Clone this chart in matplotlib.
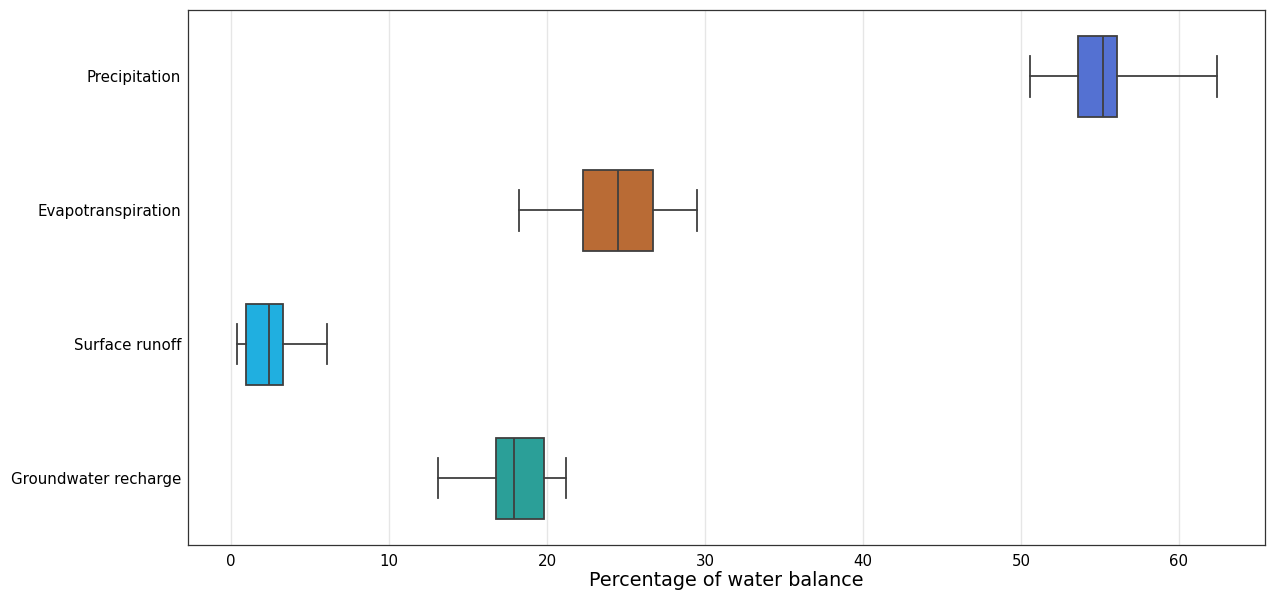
import matplotlib
matplotlib.use("Agg")
import matplotlib.pyplot as plt

categories = ["Precipitation", "Evapotranspiration", "Surface runoff", "Groundwater recharge"]
whislo = [50.6, 18.2, 0.4, 13.1]
q1 = [53.6, 22.3, 0.95, 16.8]
med = [55.2, 24.5, 2.4, 17.9]
q3 = [56.1, 26.7, 3.3, 19.8]
whishi = [62.4, 29.5, 6.1, 21.2]
colors = ["#5471d2", "#b96b35", "#20afe0", "#2b9f98"]

stats = []
for i, name in enumerate(categories):
    stats.append({"label": name, "whislo": whislo[i], "q1": q1[i], "med": med[i],
                  "q3": q3[i], "whishi": whishi[i], "fliers": []})

fig, ax = plt.subplots(figsize=(12.7, 5.94), dpi=100)
fig.subplots_adjust(left=0.148, right=0.996, top=0.984, bottom=0.082)

edge = "#3f3f3f"
bp = ax.bxp(stats, positions=range(len(categories)), vert=False, widths=0.6,
            patch_artist=True, showfliers=False,
            boxprops=dict(edgecolor=edge, linewidth=1.3),
            medianprops=dict(color=edge, linewidth=1.3),
            whiskerprops=dict(color=edge, linewidth=1.3),
            capprops=dict(color=edge, linewidth=1.3),
            capwidths=0.3)
for patch, c in zip(bp["boxes"], colors):
    patch.set_facecolor(c)
    patch.set_zorder(2)

ax.set_ylim(3.5, -0.5)
ax.set_xlim(-2.72, 65.44)
ax.set_yticks(range(len(categories)))
ax.set_yticklabels(categories)
ax.tick_params(axis="both", labelsize=10.8, length=0)
ax.tick_params(axis="y", pad=5)
ax.tick_params(axis="x", pad=6)
ax.grid(True, axis="x", color="#e6e6e6", linewidth=1, zorder=0)
ax.set_axisbelow(True)
for s in ax.spines.values():
    s.set_color("#333333")
    s.set_linewidth(0.9)
ax.set_xlabel("Percentage of water balance", fontsize=13.8, labelpad=2)

plt.savefig("out.png", dpi=100)
plt.close()
